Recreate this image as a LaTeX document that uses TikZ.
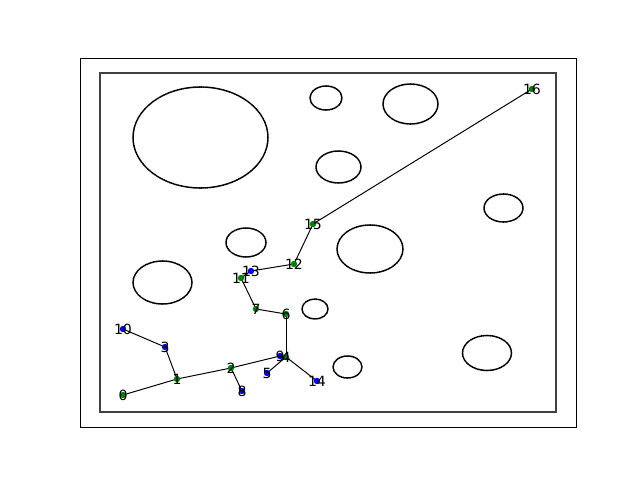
\documentclass[tikz,border=0pt]{standalone}
\usepackage{fontspec}
\setmainfont{DejaVu Sans}
\usetikzlibrary{positioning,backgrounds}

\definecolor{mplgreen}{HTML}{008000}
\definecolor{mplblue}{HTML}{0000FF}
\definecolor{wallgray}{HTML}{404040}

\begin{document}
\begin{tikzpicture}[
    x=0.025cm, y=-0.025cm,
    vtx/.style={circle, inner sep=0pt, minimum size=0.16cm, draw=none},
    gvtx/.style={vtx, fill=mplgreen},
    bvtx/.style={vtx, fill=mplblue},
    every label/.style={font=\fontsize{10}{11}\selectfont, inner sep=0pt},
    edge/.style={line width=0.7pt},
    obst/.style={line width=1.1pt, line cap=round, dash pattern=on 0.8pt off 0.5pt},
    frame/.style={line width=0.6pt},
    wall/.style={line width=1pt, wallgray}
]

\useasboundingbox (0,0) rectangle (640,480);

% Axes and workspace border
\draw[frame] (80,58) rectangle (576,427);
\draw[wall] (100,73) rectangle (556,412);

% Obstacles
\draw[obst] (200.5,137.5) ellipse [x radius=67.5, y radius=50.5];
\draw[obst] (326,98) ellipse [x radius=16, y radius=12];
\draw[obst] (410.5,104) ellipse [x radius=27.5, y radius=20];
\draw[obst] (338.5,167) ellipse [x radius=22.5, y radius=16];
\draw[obst] (503.5,208) ellipse [x radius=19.5, y radius=14];
\draw[obst] (370,249) ellipse [x radius=33, y radius=24];
\draw[obst] (246,242.5) ellipse [x radius=20, y radius=14.5];
\draw[obst] (162.5,282.5) ellipse [x radius=29.5, y radius=21.5];
\draw[obst] (315,309) ellipse [x radius=13, y radius=10];
\draw[obst] (347.5,367) ellipse [x radius=14.5, y radius=11];
\draw[obst] (487,353) ellipse [x radius=24.5, y radius=17.5];

% Tree vertices
\node[gvtx, label=center:0] (n0) at (123,395) {};
\node[gvtx, label=center:1] (n1) at (177,379) {};
\node[gvtx, label=center:2] (n2) at (231,368) {};
\node[bvtx, label=center:3] (n3) at (165,347) {};
\node[gvtx, label=center:4] (n4) at (286,357) {};
\node[bvtx, label=center:5] (n5) at (267,373) {};
\node[gvtx, label=center:6] (n6) at (286,314) {};
\node[gvtx, label=center:7] (n7) at (256,309) {};
\node[bvtx, label=center:8] (n8) at (242,391) {};
\node[bvtx, label=center:9] (n9) at (280,356) {};
\node[bvtx, label=center:10] (n10) at (123,329) {};
\node[gvtx, label=center:11] (n11) at (241,278) {};
\node[gvtx, label=center:12] (n12) at (294,264) {};
\node[bvtx, label=center:13] (n13) at (251,271) {};
\node[bvtx, label=center:14] (n14) at (317,381) {};
\node[gvtx, label=center:15] (n15) at (313,224) {};
\node[gvtx, label=center:16] (n16) at (532,89) {};

% Tree edges
\begin{scope}[on background layer]
\draw[edge] (n0.center) -- (n1.center);
\draw[edge] (n1.center) -- (n3.center);
\draw[edge] (n3.center) -- (n10.center);
\draw[edge] (n1.center) -- (n2.center);
\draw[edge] (n2.center) -- (n8.center);
\draw[edge] (n2.center) -- (n9.center);
\draw[edge] (n9.center) -- (n4.center);
\draw[edge] (n4.center) -- (n5.center);
\draw[edge] (n4.center) -- (n14.center);
\draw[edge] (n4.center) -- (n6.center);
\draw[edge] (n6.center) -- (n7.center);
\draw[edge] (n7.center) -- (n11.center);
\draw[edge] (n11.center) -- (n13.center);
\draw[edge] (n13.center) -- (n12.center);
\draw[edge] (n12.center) -- (n15.center);
\draw[edge] (n15.center) -- (n16.center);
\end{scope}

\end{tikzpicture}
\end{document}
